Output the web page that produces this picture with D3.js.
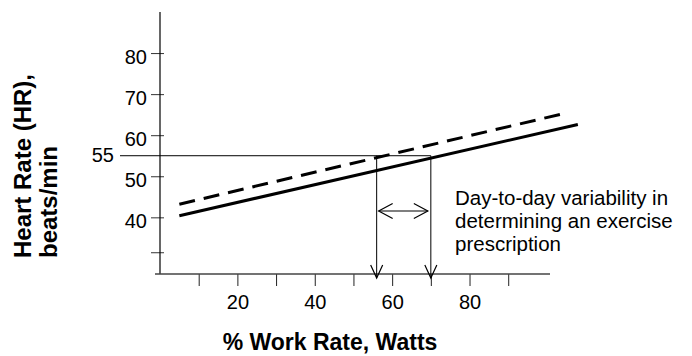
<!DOCTYPE html>
<html>
<head>
<meta charset="utf-8">
<script src="https://cdn.jsdelivr.net/npm/d3@7"></script>
<style>
  body { margin: 0; background: #fff; }
  svg { display: block; font-family: Arial, "Liberation Sans", sans-serif; }
</style>
</head>
<body>
<svg id="chart" width="692" height="356"></svg>
<script>
// values
var workRate = [5, 108];            // % work rate at the ends of the solid line
var hrSolid = [40.4, 62.6];          // heart rate along the solid line
var workRateDash = [5, 104];         // % work rate at the ends of the dashed line
var hrDashed = [43.2, 65.2];         // heart rate along the dashed line
var targetHR = 55;
var prescribedRates = [56, 70];      // where the 55 line meets each line
var xTicks = [10, 20, 30, 40, 50, 60, 70, 80, 90];
var xLabels = [20, 40, 60, 80];
var yTicks = [31.5, 40, 50, 60, 70, 80];
var yLabels = [40, 50, 60, 70, 80];
var noteLines = ["Day-to-day variability in", "determining an exercise", "prescription"];

var svg = d3.select("#chart");

var x = d3.scaleLinear().domain([0, 100.8]).range([160, 550]);
var y = d3.scaleLinear().domain([26.2, 90]).range([274, 12]);

// x axis
var gx = svg.append("g")
    .attr("transform", "translate(0," + y.range()[0] + ")")
    .call(d3.axisBottom(x)
        .tickValues(xTicks)
        .tickSize(12)
        .tickPadding(9)
        .tickFormat(function(d) { return xLabels.indexOf(d) >= 0 ? d : ""; }));
gx.select(".domain").remove();
gx.selectAll("line").attr("stroke", "#222");
gx.selectAll("text").attr("font-size", "20px").attr("fill", "#000")
  .attr("font-family", "Arial, 'Liberation Sans', sans-serif");

// y axis
var gy = svg.append("g")
    .attr("transform", "translate(" + x(0) + ",0)")
    .call(d3.axisLeft(y)
        .tickValues(yTicks)
        .tickSize(9)
        .tickPadding(4)
        .tickFormat(function(d) { return yLabels.indexOf(d) >= 0 ? d : ""; }));
gy.select(".domain").remove();
gy.selectAll("line").attr("x1", 4).attr("x2", -9).attr("stroke", "#333");
gy.selectAll("text").attr("font-size", "20px").attr("fill", "#000").attr("dy", "0.5em")
  .attr("font-family", "Arial, 'Liberation Sans', sans-serif");

// axis lines
svg.append("line")
   .attr("x1", x(0)).attr("x2", x(0))
   .attr("y1", y(y.domain()[1])).attr("y2", y(y.domain()[0]))
   .attr("stroke", "#000").attr("stroke-width", 1.2);
svg.append("line")
   .attr("x1", x(0) - 5).attr("x2", x(x.domain()[1]))
   .attr("y1", y(y.domain()[0])).attr("y2", y(y.domain()[0]))
   .attr("stroke", "#444").attr("stroke-width", 1.5);

// the two HR lines
var solid = workRate.map(function(d, i) { return [d, hrSolid[i]]; });
var dashed = workRateDash.map(function(d, i) { return [d, hrDashed[i]]; });
var line = d3.line().x(function(d) { return x(d[0]); }).y(function(d) { return y(d[1]); });

svg.append("path")
   .attr("d", line(dashed))
   .attr("fill", "none")
   .attr("stroke", "#000")
   .attr("stroke-width", 3)
   .attr("stroke-dasharray", "16,9");
svg.append("path")
   .attr("d", line(solid))
   .attr("fill", "none")
   .attr("stroke", "#000")
   .attr("stroke-width", 3);

// target HR line and its label
svg.append("line")
   .attr("x1", 120).attr("x2", x(prescribedRates[1]))
   .attr("y1", y(targetHR)).attr("y2", y(targetHR))
   .attr("stroke", "#000").attr("stroke-width", 1);
svg.append("text")
   .attr("x", 114).attr("y", y(targetHR))
   .attr("dy", "0.3em")
   .attr("text-anchor", "end")
   .attr("font-size", "20px")
   .text(targetHR);

// drop lines with open arrow heads
var tipY = y(y.domain()[0]) + 4;
prescribedRates.forEach(function(r) {
    var px = x(r);
    svg.append("line")
       .attr("x1", px).attr("x2", px)
       .attr("y1", y(targetHR)).attr("y2", tipY)
       .attr("stroke", "#000").attr("stroke-width", 1);
    svg.append("path")
       .attr("d", "M" + (px - 6) + "," + (tipY - 13) + "L" + px + "," + tipY + "L" + (px + 6) + "," + (tipY - 13))
       .attr("fill", "none").attr("stroke", "#000").attr("stroke-width", 1.2);
});

// double-headed arrow between the drop lines
var ay = 211;
var ax1 = x(prescribedRates[0]) + 2, ax2 = x(prescribedRates[1]) - 3;
svg.append("line")
   .attr("x1", ax1).attr("x2", ax2).attr("y1", ay).attr("y2", ay)
   .attr("stroke", "#000").attr("stroke-width", 1.2);
svg.append("path")
   .attr("d", "M" + (ax1 + 14) + "," + (ay - 7.5) + "L" + ax1 + "," + ay + "L" + (ax1 + 14) + "," + (ay + 7.5))
   .attr("fill", "none").attr("stroke", "#000").attr("stroke-width", 1.2);
svg.append("path")
   .attr("d", "M" + (ax2 - 14) + "," + (ay - 7.5) + "L" + ax2 + "," + ay + "L" + (ax2 - 14) + "," + (ay + 7.5))
   .attr("fill", "none").attr("stroke", "#000").attr("stroke-width", 1.2);

// note
svg.append("text")
   .attr("font-size", "20.5px")
   .selectAll("tspan")
   .data(noteLines)
   .enter().append("tspan")
   .attr("x", 455)
   .attr("y", function(d, i) { return 205 + i * 23; })
   .text(function(d) { return d; });

// axis titles
svg.append("text")
   .attr("x", 330).attr("y", 350)
   .attr("text-anchor", "middle")
   .attr("font-size", "23px")
   .attr("font-weight", "bold")
   .text("% Work Rate, Watts");

var yt = svg.append("text")
   .attr("transform", "translate(31,258) rotate(-90)")
   .attr("font-size", "24px")
   .attr("font-weight", "bold");
yt.append("tspan").attr("x", 0).attr("y", 0).text("Heart Rate (HR),");
yt.append("tspan").attr("x", 0).attr("y", 26).text("beats/min");
</script>
</body>
</html>
